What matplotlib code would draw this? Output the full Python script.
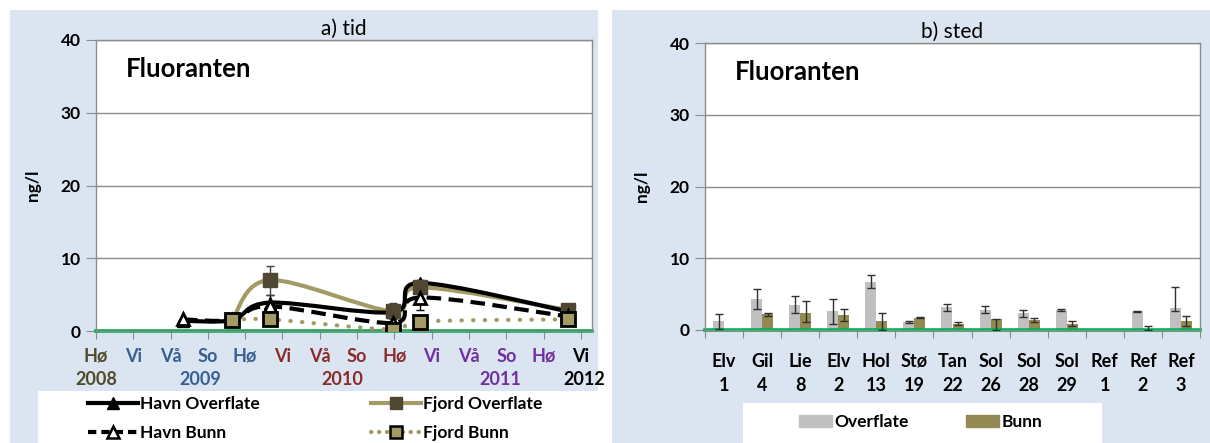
import matplotlib.pyplot as plt
import numpy as np
from matplotlib.lines import Line2D
from matplotlib.patches import Patch, PathPatch, Rectangle
from matplotlib.path import Path

plt.rcParams["font.family"] = ["Lato", "DejaVu Sans"]

# ---- data -------------------------------------------------------------
seasons = ["Hø", "Vi", "Vå", "So", "Hø", "Vi", "Vå", "So", "Hø", "Vi", "Vå", "So", "Hø", "Vi"]
years = ["2008", "2009", "2010", "2011", "2012"]

sample_t = [2.33, 3.65, 4.66, 7.96, 8.69, 12.65]
havn_over = [1.4, 1.5, 3.9, 2.6, 6.6, 2.7]
havn_over_err = [0, 0, 1.1, 0, 0.4, 0]
havn_bunn = [1.6, 1.5, 3.4, 1.1, 4.6, 2.0]
havn_bunn_err = [0, 0, 0.5, 0, 1.7, 0]
fjord_t = [3.65, 4.66, 7.96, 8.69, 12.65]
fjord_over = [1.5, 7.0, 2.7, 6.0, 2.9]
fjord_over_err = [0, 2.0, 1.1, 0, 0]
fjord_bunn = [1.5, 1.6, 0.2, 1.3, 1.6]

stations = ["Elv\n1", "Gil\n4", "Lie\n8", "Elv\n2", "Hol\n13", "Stø\n19", "Tan\n22",
            "Sol\n26", "Sol\n28", "Sol\n29", "Ref\n1", "Ref\n2", "Ref\n3"]
overflate = [1.2, 4.3, 3.5, 2.6, 6.7, 1.1, 3.2, 2.8, 2.3, 2.8, 0, 2.6, 3.0]
overflate_lo = [1.0, 1.4, 1.2, 1.7, 0.9, 0.1, 0.6, 0.4, 0.5, 0.1, 0, 0.1, 0.4]
overflate_hi = [1.0, 1.4, 1.2, 1.7, 0.9, 0.1, 0.4, 0.6, 0.5, 0.1, 0, 0.1, 3.0]
bunn = [0, 2.2, 2.4, 2.1, 1.3, 1.7, 0.9, 1.5, 1.4, 0.9, 0, 0.05, 1.2]
bunn_lo = [0, 0.2, 1.3, 0.8, 1.3, 0.05, 0.2, 1.5, 0.3, 0.3, 0, 0, 0.7]
bunn_hi = [0, 0.2, 1.6, 0.8, 1.1, 0.05, 0.2, 0.05, 0.3, 0.3, 0, 0.5, 0.7]

# ---- style ------------------------------------------------------------
BG = "#dbe5f1"
GRID = "#8c8c8c"
GREEN = "#00b050"
KHAKI = "#a39a66"
DARK_SQ = "#4f4731"
GRAY_BAR = "#c0c0c0"
OLIVE_BAR = "#938953"
OLIVE_TXT = "#4f4a2a"
BLUE_TXT = "#376092"
RED_TXT = "#8b2c2c"
PURPLE_TXT = "#7030a0"
season_colors = [OLIVE_TXT] + [BLUE_TXT] * 4 + [RED_TXT] * 4 + [PURPLE_TXT] * 4 + ["black"]
year_at = [0, 2.8, 6.6, 10.85, 13.1]
year_colors = [OLIVE_TXT, BLUE_TXT, RED_TXT, PURPLE_TXT, "black"]


def smooth_path(x, y):
    """Excel-like smoothed line as a bezier path through the points."""
    pts = np.column_stack([x, y]).astype(float)
    ext = np.vstack([pts[0], pts, pts[-1]])
    verts = [pts[0]]
    codes = [Path.MOVETO]
    for i in range(len(pts) - 1):
        p0, p1, p2, p3 = ext[i], ext[i + 1], ext[i + 2], ext[i + 3]
        verts += [p1 + (p2 - p0) / 6, p2 - (p3 - p1) / 6, p2]
        codes += [Path.CURVE4] * 3
    return Path(verts, codes)


def errbars(ax, x, y, lo, hi, color):
    """Error bars, skipping points that have none."""
    x, y, lo, hi = map(np.asarray, (x, y, lo, hi))
    keep = (lo + hi) > 0
    ax.errorbar(x[keep], y[keep], yerr=[lo[keep], hi[keep]], fmt="none", ecolor=color,
                elinewidth=1, capsize=3, zorder=4)


def style_axes(ax):
    ax.set_ylim(0, 40)
    ax.set_yticks([0, 10, 20, 30, 40])
    ax.set_facecolor("white")
    ax.yaxis.grid(True, color=GRID, lw=1)
    ax.set_axisbelow(True)
    for s in ax.spines.values():
        s.set_color(GRID)
        s.set_linewidth(1)
    ax.tick_params(axis="y", length=7, color=GRID, labelsize=12.5, pad=4)
    ax.tick_params(axis="x", length=6, color=GRID)
    for lab in ax.get_yticklabels():
        lab.set_fontweight("bold")
    ax.set_ylabel("ng/l", fontsize=12.5, fontweight="bold", labelpad=14)
    ax.axhline(0, color=GREEN, lw=2.6, clip_on=False, zorder=2.5)
    ax.text(0.06, 0.9, "Fluoranten", transform=ax.transAxes, fontsize=18.5,
            fontweight="bold", va="center")


fig = plt.figure(figsize=(12.1, 4.43), dpi=100)
W, H = 1210, 443
for x0, w, h, c in [(10, 588, H - 10, BG), (612, 598, H - 10, BG),
                    (38, 560, 52, "white"), (743, 359, 40, "white")]:
    fig.patches.append(Rectangle((x0 / W, 0), w / W, h / H, transform=fig.transFigure,
                                 fc=c, ec="none", zorder=-10))

# ---- a) tid -----------------------------------------------------------
ax1 = fig.add_axes([96 / W, 1 - 331 / H, 496 / W, 291 / H])
style_axes(ax1)
ax1.set_xlim(0, 13.3)
ax1.set_xticks(range(len(seasons)))
ax1.set_xticklabels(seasons, fontsize=13, fontweight="bold")
ax1.tick_params(axis="x", pad=6)
for lab, c in zip(ax1.get_xticklabels(), season_colors):
    lab.set_color(c)
for yr, xp, c in zip(years, year_at, year_colors):
    ax1.text(xp, -0.165, yr, transform=ax1.get_xaxis_transform(), ha="center", va="center",
             fontsize=13, fontweight="bold", color=c)
ax1.set_title("a) tid", fontsize=15, pad=4)

ax1.add_patch(PathPatch(smooth_path(fjord_t, fjord_bunn), fill=False, ec=KHAKI, lw=3,
                        ls=(0, (0.1, 2.7)), capstyle="round", zorder=3))
ax1.add_patch(PathPatch(smooth_path(fjord_t, fjord_over), fill=False, ec=KHAKI, lw=3, zorder=3))
ax1.add_patch(PathPatch(smooth_path(sample_t, havn_over), fill=False, ec="black", lw=3, zorder=3))
ax1.add_patch(PathPatch(smooth_path(sample_t, havn_bunn), fill=False, ec="black", lw=3,
                        ls=(0, (3.5, 1.8)), zorder=3))

errbars(ax1, sample_t, havn_over, havn_over_err, havn_over_err, "black")
errbars(ax1, sample_t, havn_bunn, havn_bunn_err, havn_bunn_err, "black")
errbars(ax1, fjord_t, fjord_over, fjord_over_err, fjord_over_err, "#404040")

ax1.plot(sample_t, havn_over, ls="none", marker="^", ms=9, mfc="black", mec="black", zorder=5)
ax1.plot(fjord_t, fjord_over, ls="none", marker="s", ms=10, mfc=DARK_SQ, mec=DARK_SQ, zorder=5)
ax1.plot(sample_t, havn_bunn, ls="none", marker="^", ms=9, mfc="white", mec="black",
         mew=2, zorder=6)
ax1.plot(fjord_t, fjord_bunn, ls="none", marker="s", ms=10, mfc=KHAKI, mec="black",
         mew=2, zorder=6)

h_left = [
    Line2D([], [], color="black", lw=3, marker="^", ms=8, mfc="black", mec="black"),
    Line2D([], [], color="black", lw=3, ls=(0, (2, 1.2)), marker="^", ms=8, mfc="white",
           mec="black", mew=1.8),
    Line2D([], [], color=KHAKI, lw=3, marker="s", ms=9, mfc=DARK_SQ, mec=DARK_SQ),
    Line2D([], [], color=KHAKI, lw=3, ls=(0, (0.1, 1.8)), dash_capstyle="round", marker="s",
           ms=9, mfc=KHAKI, mec="black", mew=1.8),
]
fig.legend(h_left, ["Havn Overflate", "Havn Bunn", "Fjord Overflate", "Fjord Bunn"],
           ncol=2, loc="upper left", bbox_to_anchor=(88 / W, 1 - 396 / H), frameon=False,
           prop={"size": 12.5, "weight": "bold"}, handlelength=2.9, handletextpad=0.1,
           columnspacing=6.4, labelspacing=0.75, borderaxespad=0, borderpad=0)

# ---- b) sted ----------------------------------------------------------
ax2 = fig.add_axes([705 / W, 1 - 330 / H, 495 / W, 287 / H])
style_axes(ax2)
pos = np.arange(len(stations))
bw = 0.29
ax2.bar(pos - bw / 2, overflate, bw, color=GRAY_BAR, zorder=2)
ax2.bar(pos + bw / 2, bunn, bw, color=OLIVE_BAR, zorder=2)
errbars(ax2, pos - bw / 2, overflate, overflate_lo, overflate_hi, "#303030")
errbars(ax2, pos + bw / 2, bunn, bunn_lo, bunn_hi, "#303030")
ax2.set_xlim(-0.5, len(stations) - 0.5)
ax2.set_xticks(np.arange(len(stations) + 1) - 0.5)
ax2.set_xticklabels([])
for p, s in zip(pos, stations):
    ax2.text(p, -0.08, s, transform=ax2.get_xaxis_transform(), ha="center", va="top",
             fontsize=13, fontweight="bold", linespacing=1.5)
ax2.set_title("b) sted", fontsize=15, pad=4)

h_right = [Patch(color=GRAY_BAR), Patch(color=OLIVE_BAR)]
fig.legend(h_right, ["Overflate", "Bunn"], ncol=2, loc="center left",
           bbox_to_anchor=(799 / W, 1 - 422 / H), frameon=False,
           prop={"size": 12.5, "weight": "bold"}, handlelength=1.9, handleheight=0.65,
           handletextpad=0.15, columnspacing=3.3, borderaxespad=0, borderpad=0)

fig.savefig("out.png", dpi=100)
